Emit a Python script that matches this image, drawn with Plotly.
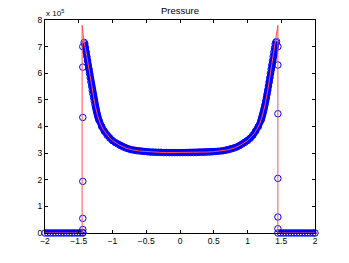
import plotly.graph_objects as go

# ---- data (values in units of 1e5) ----
# numerical solution (blue circles), split into its parts
zero_left_x = [-2.00, -1.96, -1.92, -1.88, -1.84, -1.80, -1.76, -1.72, -1.68, -1.64, -1.60, -1.56,
               -1.52, -1.48, -1.44]
zero_left_y = [0, 0, 0, 0, 0, 0, 0, 0, 0, 0, 0, 0, 0, 0, 0]

jump_left_x = [-1.44, -1.44, -1.44, -1.44, -1.44, -1.44, -1.44]
jump_left_y = [0.02, 0.13, 0.55, 1.94, 4.34, 6.23, 7.00]

curve_x = [-1.42, -1.41, -1.40, -1.39, -1.38, -1.37, -1.36, -1.35, -1.34, -1.33, -1.32, -1.31, -1.30,
           -1.29, -1.28, -1.27, -1.26, -1.25, -1.24, -1.23, -1.22, -1.21, -1.20,
           -1.16, -1.12, -1.08, -1.04, -1.00, -0.96, -0.92, -0.88, -0.84, -0.80, -0.76, -0.72, -0.68,
           -0.64, -0.60, -0.56, -0.52, -0.48, -0.44, -0.40, -0.36, -0.32, -0.28, -0.24, -0.20, -0.16,
           -0.12, -0.08, -0.04, 0.00,
           0.04, 0.08, 0.12, 0.16, 0.20, 0.24, 0.28, 0.32, 0.36, 0.40, 0.44, 0.48, 0.52, 0.56, 0.60,
           0.64, 0.68, 0.72, 0.76, 0.80, 0.84, 0.88, 0.92, 0.96, 1.00, 1.04, 1.08, 1.12, 1.16, 1.20,
           1.21, 1.22, 1.23, 1.24, 1.25, 1.26, 1.27, 1.28, 1.29, 1.30, 1.31, 1.32, 1.33, 1.34, 1.35,
           1.36, 1.37, 1.38, 1.39, 1.40, 1.41, 1.42, 1.43]
curve_y = [7.16, 7.10, 6.95, 6.79, 6.63, 6.47, 6.31, 6.15, 5.99, 5.83, 5.67, 5.51, 5.36,
           5.22, 5.08, 4.95, 4.82, 4.70, 4.59, 4.49, 4.40, 4.31, 4.23,
           4.00, 3.82, 3.67, 3.56, 3.47, 3.40, 3.34, 3.28, 3.23, 3.19, 3.16, 3.13, 3.11,
           3.09, 3.08, 3.07, 3.06, 3.05, 3.04, 3.04, 3.03, 3.03, 3.03, 3.02, 3.02, 3.02,
           3.02, 3.02, 3.02, 3.02,
           3.02, 3.02, 3.02, 3.02, 3.02, 3.02, 3.03, 3.03, 3.03, 3.04, 3.04, 3.05, 3.06, 3.07, 3.08,
           3.09, 3.11, 3.13, 3.16, 3.19, 3.23, 3.28, 3.34, 3.40, 3.47, 3.56, 3.67, 3.82, 4.00, 4.23,
           4.31, 4.40, 4.49, 4.59, 4.70, 4.82, 4.95, 5.08, 5.22, 5.36, 5.51, 5.67, 5.83, 5.99, 6.15,
           6.31, 6.47, 6.63, 6.79, 6.95, 7.10, 7.16, 7.19]

jump_right_x = [1.45, 1.45, 1.45, 1.45, 1.45, 1.45]
jump_right_y = [7.00, 6.31, 4.48, 2.05, 0.60, 0.16]

zero_right_x = [1.45, 1.49, 1.53, 1.57, 1.61, 1.65, 1.69, 1.73, 1.77, 1.81, 1.85, 1.89, 1.93, 1.97, 2.00]
zero_right_y = [0, 0, 0, 0, 0, 0, 0, 0, 0, 0, 0, 0, 0, 0, 0]

# exact solution (red line)
exact_x = [-2.00, -1.45, -1.45, -1.42, -1.38, -1.34, -1.30, -1.26, -1.22, -1.18, -1.14, -1.10, -1.05,
           -1.00, -0.90, -0.80, -0.70, -0.60, -0.50, -0.40, -0.30, -0.20, 0.00,
           0.20, 0.30, 0.40, 0.50, 0.60, 0.70, 0.80, 0.90, 1.00, 1.05, 1.10, 1.14, 1.18, 1.22,
           1.26, 1.30, 1.34, 1.38, 1.42, 1.45, 1.45, 2.00]
exact_y = [0, 0, 7.80, 7.16, 6.63, 5.99, 5.36, 4.82, 4.40, 4.10, 3.90, 3.74, 3.59,
           3.47, 3.31, 3.19, 3.12, 3.08, 3.055, 3.04, 3.03, 3.02, 3.02,
           3.02, 3.03, 3.04, 3.055, 3.08, 3.12, 3.19, 3.31, 3.47, 3.59, 3.74, 3.90, 4.10, 4.40,
           4.82, 5.36, 5.99, 6.63, 7.16, 7.80, 0, 0]

x_ticks = [-2, -1.5, -1, -0.5, 0, 0.5, 1, 1.5, 2]
x_tick_text = ["\u22122", "\u22121.5", "\u22121", "\u22120.5", "0", "0.5", "1", "1.5", "2"]
y_ticks = [0, 1, 2, 3, 4, 5, 6, 7, 8]

BLUE = "#0000ff"

# all numerical points as circles
marker_x = zero_left_x + jump_left_x + curve_x + jump_right_x + zero_right_x
marker_y = zero_left_y + jump_left_y + curve_y + jump_right_y + zero_right_y
# dense overlapping circles form a solid band along the continuous parts
band_x = zero_left_x + [None] + curve_x + [None] + zero_right_x
band_y = zero_left_y + [None] + curve_y + [None] + zero_right_y

fig = go.Figure()
fig.add_trace(go.Scatter(
    x=band_x, y=band_y, mode="lines", cliponaxis=False, connectgaps=False,
    line=dict(color=BLUE, width=6.5), showlegend=False, hoverinfo="skip"))
fig.add_trace(go.Scatter(
    x=marker_x, y=marker_y, mode="markers", cliponaxis=False,
    marker=dict(symbol="circle-open", size=6.5, color=BLUE, line=dict(width=1, color=BLUE)),
    showlegend=False))
fig.add_trace(go.Scatter(
    x=exact_x, y=exact_y, mode="lines", cliponaxis=False,
    line=dict(color="rgb(255,80,80)", width=1), showlegend=False))

font = "Liberation Sans, Arial, Helvetica, sans-serif"
fig.update_layout(
    width=349, height=263,
    margin=dict(l=45, r=33.5, t=20, b=29.5),
    paper_bgcolor="white", plot_bgcolor="white",
    font=dict(family=font, size=8.5, color="black"),
    title=dict(text="Pressure", x=0.5, xref="paper", y=1 - 11 / 263, yref="container",
               xanchor="center", yanchor="middle", font=dict(size=9.5, family=font, color="black")),
    xaxis=dict(range=[-2, 2], tickmode="array", tickvals=x_ticks, ticktext=x_tick_text,
               ticks="inside", ticklen=3, tickcolor="black", showgrid=False, zeroline=False,
               showline=True, linecolor="black", linewidth=1, mirror="ticks"),
    yaxis=dict(range=[0, 8], tickmode="array", tickvals=y_ticks,
               ticks="inside", ticklen=3, tickcolor="black", showgrid=False, zeroline=False,
               showline=True, linecolor="black", linewidth=1, mirror="ticks"),
    annotations=[dict(text="x 10<sup>5</sup>", xref="paper", yref="paper", x=0, y=1,
                      xanchor="left", yanchor="bottom", showarrow=False, xshift=-1, yshift=0,
                      font=dict(size=8, family=font, color="black"))],
)

fig.write_html("out.html", config={"displayModeBar": False},
               post_script="document.body.style.margin='0px';")
